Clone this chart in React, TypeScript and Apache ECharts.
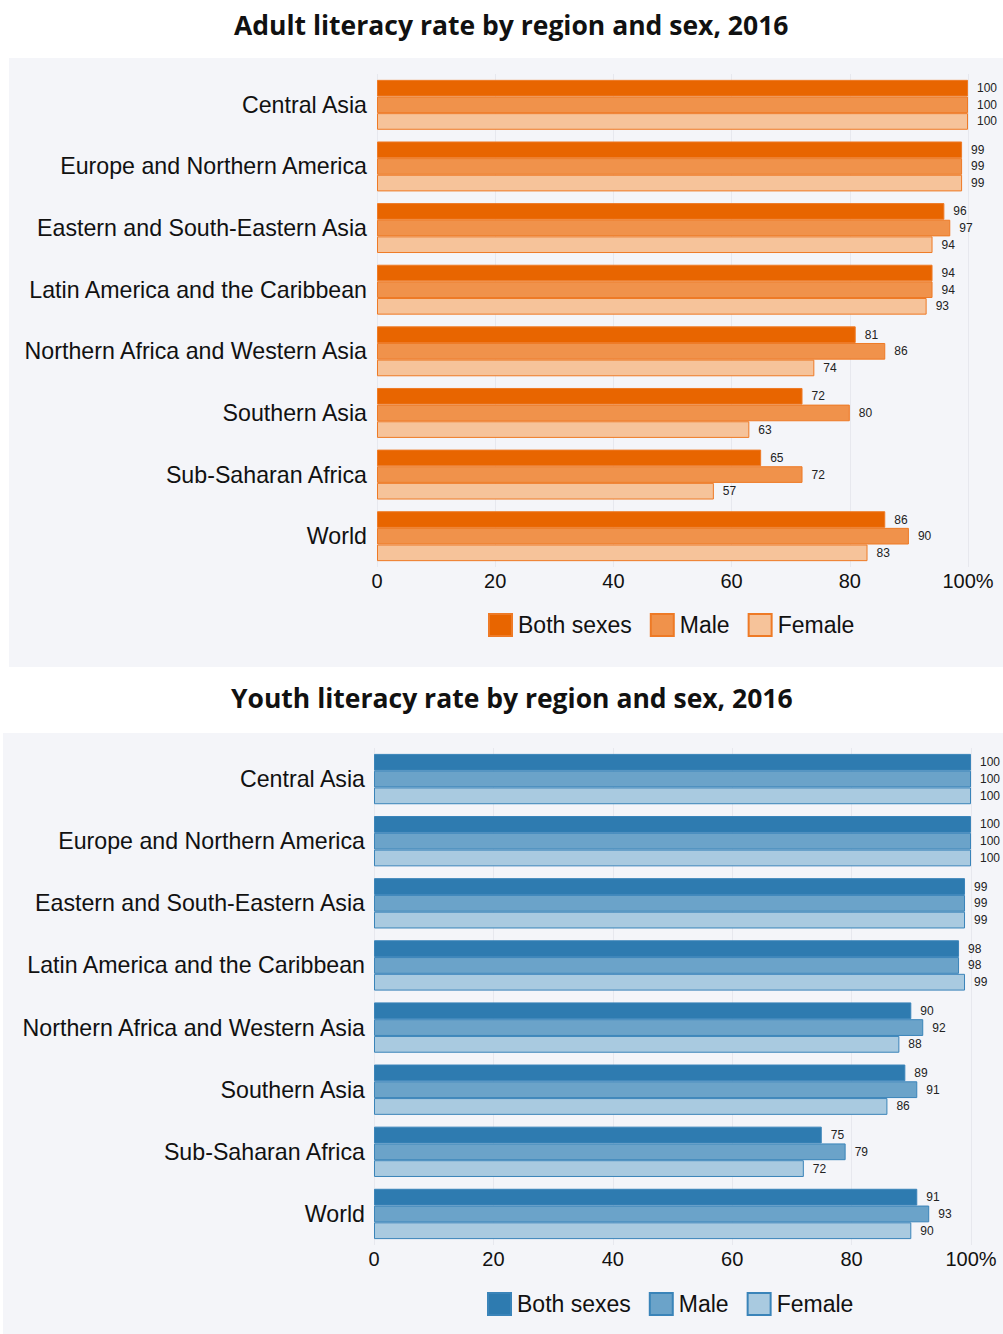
import React, { useEffect, useRef } from "react";
import * as echarts from "echarts";

const categories = [
  "Central Asia",
  "Europe and Northern America",
  "Eastern and South-Eastern Asia",
  "Latin America and the Caribbean",
  "Northern Africa and Western Asia",
  "Southern Asia",
  "Sub-Saharan Africa",
  "World",
];
const seriesNames = ["Both sexes", "Male", "Female"];
const xTicks = [0, 20, 40, 60, 80, 100];

const adultBoth = [100, 99, 96, 94, 81, 72, 65, 86];
const adultMale = [100, 99, 97, 94, 86, 80, 72, 90];
const adultFemale = [100, 99, 94, 93, 74, 63, 57, 83];

const youthBoth = [100, 100, 99, 98, 90, 89, 75, 91];
const youthMale = [100, 100, 99, 98, 92, 91, 79, 93];
const youthFemale = [100, 100, 99, 99, 88, 86, 72, 90];

const adultTitle = "Adult literacy rate by region and sex, 2016";
const youthTitle = "Youth literacy rate by region and sex, 2016";

type Cfg = {
  title: string;
  titleLeft: number;
  data: number[][];
  colors: string[];
  border: string;
  panelX: number;
  panelY: number;
  gridLeft: number;
  gridRight: number;
  gridTop: number;
  gridBottom: number;
  labelMargin: number;
  legendLeft: number;
  legendTop: number;
  titleTop: number;
};

function buildOption(c: Cfg): any {
  return {
    animation: false,
    title: {
      text: c.title,
      left: c.titleLeft,
      top: c.titleTop,
      textStyle: {
        fontFamily: "Open Sans",
        fontWeight: "bold",
        fontSize: 26.5,
        color: "#111",
      },
    },
    graphic: [
      {
        type: "rect",
        z: -10,
        silent: true,
        shape: { x: c.panelX, y: c.panelY, width: 1003 - c.panelX, height: 700 },
        style: { fill: "#f4f5f9" },
      },
    ],
    legend: {
      left: c.legendLeft,
      top: c.legendTop,
      padding: 0,
      itemWidth: 23,
      itemHeight: 22,
      itemGap: 18,
      icon: "rect",
      data: seriesNames,
      textStyle: { fontFamily: "Liberation Sans", fontSize: 23, color: "#111", padding: [0, 0, 0, 1] },
    },
    grid: {
      left: c.gridLeft,
      right: c.gridRight,
      top: c.gridTop,
      bottom: c.gridBottom,
    },
    xAxis: {
      type: "value",
      min: 0,
      max: 100,
      interval: 20,
      axisLine: { show: false },
      axisTick: { show: false },
      splitLine: { show: true, lineStyle: { color: "#e7e8ee", width: 1 } },
      axisLabel: {
        fontFamily: "Liberation Sans",
        fontSize: 20,
        color: "#111",
        margin: 4,
        formatter: (v: number) => (v === xTicks[xTicks.length - 1] ? v + "%" : String(v)),
      },
    },
    yAxis: {
      type: "category",
      inverse: true,
      data: categories,
      axisLine: { show: false },
      axisTick: { show: false },
      axisLabel: {
        fontFamily: "Liberation Sans",
        fontSize: 23.2,
        color: "#111",
        margin: c.labelMargin,
      },
    },
    series: seriesNames.map((name, i) => ({
      name,
      type: "bar",
      data: c.data[i],
      barGap: "0%",
      barCategoryGap: "19%",
      itemStyle: { color: c.colors[i], borderColor: c.border, borderWidth: 1 },
      label: {
        show: true,
        position: "right",
        distance: 9,
        fontFamily: "Liberation Sans",
        fontSize: 12,
        color: "#222",
      },
    })),
  };
}

function Chart({ cfg }: { cfg: Cfg }) {
  const ref = useRef<HTMLDivElement>(null);
  useEffect(() => {
    if (!ref.current) return;
    const chart = echarts.init(ref.current, undefined, { renderer: "svg" });
    chart.setOption(buildOption(cfg));
    return () => chart.dispose();
  }, []);
  return <div ref={ref} style={{ width: 1003, height: 667 }} />;
}

export default function App() {
  useEffect(() => {
    document.body.style.margin = "0";
  }, []);
  const adult: Cfg = {
    title: adultTitle,
    titleLeft: 229,
    data: [adultBoth, adultMale, adultFemale],
    colors: ["#e86500", "#f0924b", "#f6c39a"],
    border: "#ee7a26",
    panelX: 9,
    panelY: 58,
    gridLeft: 377,
    gridRight: 35,
    gridTop: 74,
    gridBottom: 100,
    labelMargin: 10,
    legendLeft: 488,
    legendTop: 613,
    titleTop: 6,
  };
  const youth: Cfg = {
    title: youthTitle,
    titleLeft: 226,
    data: [youthBoth, youthMale, youthFemale],
    colors: ["#2e7bb0", "#6ba3c9", "#a9cae0"],
    border: "#3a84b9",
    panelX: 3,
    panelY: 66,
    gridLeft: 374,
    gridRight: 32,
    gridTop: 81,
    gridBottom: 89,
    labelMargin: 9,
    legendLeft: 487,
    legendTop: 625,
    titleTop: 12,
  };
  return (
    <div style={{ width: 1003, height: 1334, background: "#fff" }}>
      <Chart cfg={adult} />
      <Chart cfg={youth} />
    </div>
  );
}
